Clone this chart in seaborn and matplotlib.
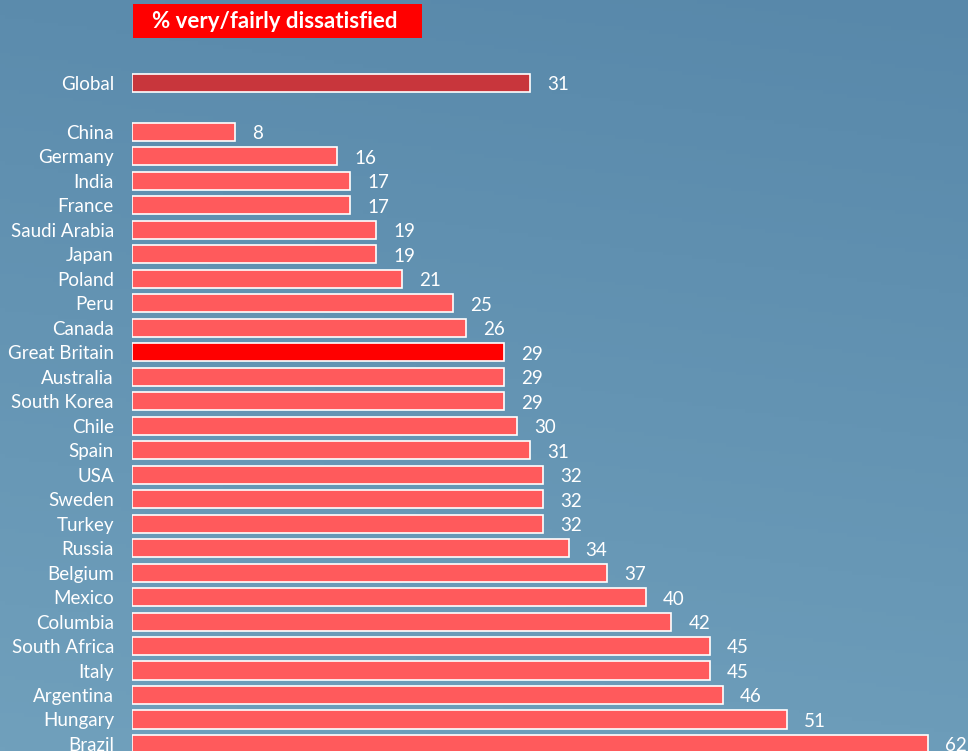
import numpy as np
import pandas as pd
import matplotlib
matplotlib.use("Agg")
import matplotlib.pyplot as plt
from matplotlib.patches import Rectangle
import seaborn as sns

countries = ["Global", "China", "Germany", "India", "France", "Saudi Arabia", "Japan",
             "Poland", "Peru", "Canada", "Great Britain", "Australia", "South Korea",
             "Chile", "Spain", "USA", "Sweden", "Turkey", "Russia", "Belgium", "Mexico",
             "Columbia", "South Africa", "Italy", "Argentina", "Hungary", "Brazil"]
values = [31, 8, 16, 17, 17, 19, 19, 21, 25, 26, 29, 29, 29, 30, 31, 32, 32, 32, 34,
          37, 40, 42, 45, 45, 46, 51, 62]
title = "% very/fairly dissatisfied"

sns.set_theme(style="white")
plt.rcParams['font.family'] = ['Lato', 'DejaVu Sans']

W, H = 968, 751
fig = plt.figure(figsize=(W / 100, H / 100), dpi=100)

# background gradient
bg = fig.add_axes([0, 0, 1, 1], zorder=0)
yy = np.linspace(0, 1, 200)[:, None]
xx = np.linspace(0, 1, 200)[None, :]
top = np.array([88, 136, 170]) / 255
bot = np.array([112, 160, 188]) / 255
t = yy * 0.85 + (1 - xx) * 0.15
img = top[None, None, :] * (1 - t[..., None]) + bot[None, None, :] * t[..., None]
bg.imshow(img, aspect="auto", extent=[0, 1, 1, 0])
bg.set_axis_off()

left_px = 132
ax = fig.add_axes([left_px / W, 0, (W - left_px) / W, 1], zorder=1)
ax.patch.set_alpha(0)

pos = [0] + [i + 2 for i in range(len(countries) - 1)]
kind = ["global" if c == "Global" else ("gb" if c == "Great Britain" else "other") for c in countries]
df = pd.DataFrame({"country": countries, "value": values, "pos": pos, "kind": kind})
palette = {"global": "#c8363c", "gb": "#ff0000", "other": "#ff5a5c"}

sns.barplot(data=df, x="value", y="pos", hue="kind", palette=palette, orient="h",
            native_scale=True, dodge=False, width=0.74, legend=False, saturation=1,
            edgecolor="white", linewidth=1.2, ax=ax)

px_per_unit = 12.84
ax.set_xlim(0, (W - left_px) / px_per_unit)
pitch = 24.48
ax.set_ylim((H - 83) / pitch, -83 / pitch)
ax.set_yticks(pos)
ax.set_yticklabels(countries, color="white", fontsize=13.5)
ax.tick_params(axis="y", length=0, pad=13)
ax.set_xticks([])
ax.set_xlabel("")
ax.set_ylabel("")
for s in ax.spines.values():
    s.set_visible(False)

for p, v in zip(pos, values):
    ax.text(v + 17 / px_per_unit, p + 0.08, str(v), color="white", fontsize=13.5,
            va="center", ha="left")

# title box
fig.patches.append(Rectangle((133 / W, 1 - 38 / H), 289 / W, 34 / H,
                             transform=fig.transFigure, facecolor="#ff0000",
                             edgecolor="none", zorder=2))
fig.text(275 / W, 1 - 21 / H, title, color="white", fontsize=16, fontweight="bold",
         ha="center", va="center", zorder=3)

fig.savefig("out.png", dpi=100)
